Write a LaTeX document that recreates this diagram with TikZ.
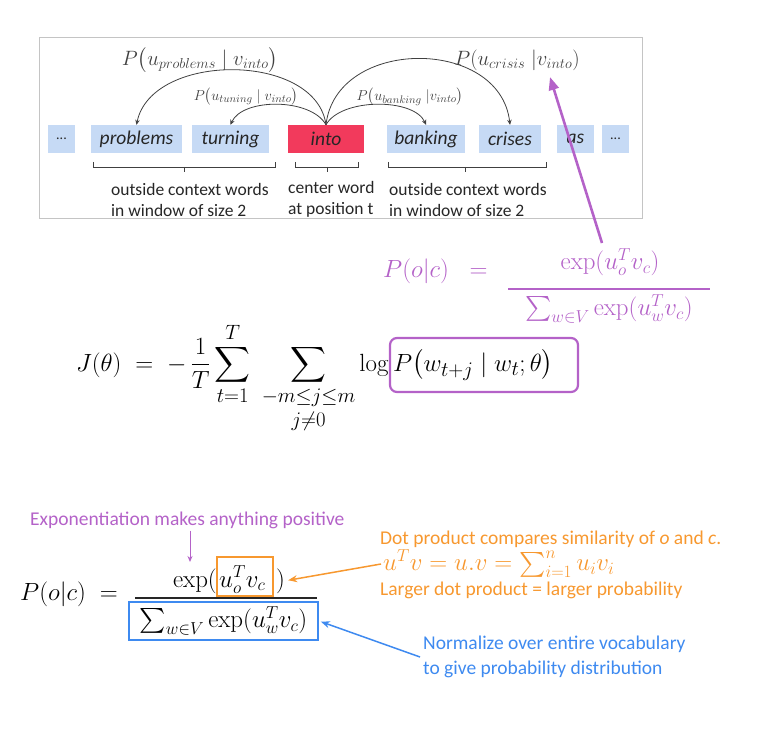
\documentclass[tikz,border=0pt]{standalone}
\usepackage{amsmath}
\usepackage[no-math]{fontspec}
\setmainfont{Carlito}
\usetikzlibrary{arrows.meta,calc}
\definecolor{boxblue}{HTML}{C6DAF5}
\definecolor{intored}{HTML}{F23A5C}
\definecolor{purp}{HTML}{B462C8}
\definecolor{orng}{HTML}{F7982F}
\definecolor{blu}{HTML}{3E8AF0}
\definecolor{framegray}{HTML}{C4C4C4}
\definecolor{arcgray}{HTML}{404040}
\definecolor{ink}{HTML}{262626}
\begin{document}
\begin{tikzpicture}[x=1pt,y=-1pt,
  wbox/.style={fill=boxblue, minimum height=28pt, inner sep=0pt, text=ink,
    font=\fontsize{19.5}{22}\selectfont\itshape},
  arc/.style={draw=arcgray, line width=0.8pt, -{Stealth[length=5pt,width=4.5pt]}},
  labbig/.style={text=arcgray, inner sep=1pt, font=\fontsize{20.5}{22}\selectfont},
  labsmall/.style={text=arcgray, inner sep=1pt, font=\fontsize{15.5}{17}\selectfont},
  brk/.style={draw=arcgray, line width=0.8pt},
  ctx/.style={text=ink, align=left, anchor=west, inner sep=0pt,
    font=\fontsize{17.5}{21}\selectfont},
  pmath/.style={text=purp, inner sep=0pt, font=\fontsize{27}{30}\selectfont},
  bmath/.style={text=black, inner sep=0pt, font=\fontsize{27}{30}\selectfont},
  jmath/.style={text=black, inner sep=0pt, font=\fontsize{30}{34}\selectfont},
  ptext/.style={text=purp, inner sep=2pt, font=\fontsize{19.5}{24}\selectfont},
  otext/.style={text=orng, inner sep=2pt, font=\fontsize{19.5}{24}\selectfont},
  btext/.style={text=blu, inner sep=3pt, align=left, font=\fontsize{19.5}{25}\selectfont},
]
\useasboundingbox (0,0) rectangle (771,735);

% ---------- top panel ----------
\draw[framegray, line width=0.8pt] (39,37) rectangle (642,218);

\node[wbox, minimum width=27pt] (d1) at (61.5,139) {\upshape\fontsize{14}{16}\selectfont ...};
\node[wbox, minimum width=91pt] (w1) at (136.5,139) {problems};
\node[wbox, minimum width=77pt] (w2) at (230.5,139) {turning};
\node[wbox, fill=intored, minimum width=76pt] (wc) at (326,139) {into};
\node[wbox, minimum width=78pt] (w3) at (426,139) {banking};
\node[wbox, minimum width=62pt] (w4) at (510,139) {crises};
\node[wbox, minimum width=37pt] (w5) at (575.5,139) {as};
\node[wbox, minimum width=27pt] (d2) at (615.5,139) {\upshape\fontsize{14}{16}\selectfont ...};

\draw[arc] (wc.north) .. controls +(-10,-73) and +(15,-73) .. (w1.north);
\draw[arc] (wc.north) .. controls +(-15,-27) and +(12,-27) .. (w2.north);
\draw[arc] (wc.north) .. controls +(15,-27) and +(-12,-27) .. (w3.north);
\draw[arc] (wc.north) .. controls +(10,-88) and +(-10,-88) .. (w4.north);

\node[labbig] (lp) at (200,60) {$P\bigl(u_{problems} \mid v_{into}\bigr)$};
\node[labsmall] (lt) at (246,97) {$P\bigl(u_{tuning} \mid v_{into}\bigr)$};
\node[labsmall] (lb) at (410,97) {$P\bigl(u_{banking}\;|v_{into}\bigr)$};
\node[labbig] (lc) at (517,60) {$P(u_{crisis}\;|v_{into})$};

\draw[brk] (93,162) -- (93,167) -- (275,167) -- (275,162) (184,167) -- (184,172);
\draw[brk] (295,162) -- (295,167) -- (358,167) -- (358,162) (327,167) -- (327,172);
\draw[brk] (388,162) -- (388,167) -- (546,167) -- (546,162) (465,167) -- (465,172);

\node[ctx] (t1) at (111,199.5) {outside context words\\in window of size 2};
\node[ctx] (t2) at (288,199.5) {center word\\at position t};
\node[ctx] (t3) at (389,199.5) {outside context words\\in window of size 2};

% ---------- purple softmax ----------
\node[pmath, anchor=west] (plhs) at (383,271) {$P(o|c)\;\;=$};
\node[pmath] (pnum) at (610,262) {$\exp(u_o^T v_c)$};
\draw[purp, line width=1.6pt] (508,289) -- (710,289);
\node[pmath] (pden) at (609,309) {$\sum_{w\in V}\exp(u_w^T v_c)$};

% ---------- objective ----------
\node[jmath, anchor=base east] (jlhs) at (389,371)
  {$\displaystyle J(\theta) \;=\; -\,\frac{1}{T}\sum_{t=1}^{T}\;\sum_{\begin{subarray}{c}-m\le j\le m\\[3pt] j\ne 0\end{subarray}} \log$};
\draw[purp, line width=2.2pt, rounded corners=7pt] (390,338) rectangle (578,392);
\node[jmath, anchor=base west, font=\fontsize{28}{32}\selectfont] (pw) at (393,371) {$P\bigl(w_{t+j}\mid w_t;\theta\bigr)$};

% ---------- bottom softmax ----------
\node[bmath, anchor=west] (blhs) at (20,594) {$P(o|c)\;=$};
\draw[orng, line width=2pt] (217,557) rectangle (273,596);
\node[bmath, anchor=base east] (expl) at (217,587) {$\exp($};
\node[bmath, anchor=base west] (uvtxt) at (219,587) {$u_o^T v_c$};
\node[bmath, anchor=base west] (rpar) at (276,587) {$)$};
\draw[line width=1.8pt, ink] (135,598) -- (317,598);
\node[bmath, draw=blu, line width=2pt, minimum width=189pt, minimum height=38pt, inner sep=2pt] (den) at (223.5,621)
  {$\sum_{w\in V}\exp(u_w^T v_c)$};

\node[ptext, anchor=west] (expo) at (28,520) {Exponentiation makes anything positive};
\coordinate (expotip) at (190,562);
\draw[purp, line width=1pt, -{Stealth[length=6pt,width=5pt]}] (expo.south -| expotip) -- (expotip);

\node[otext, anchor=west] (dot1) at (378,539) {Dot product compares similarity of \textit{o} and \textit{c}.};
\node[otext, anchor=west, font=\fontsize{24}{28}\selectfont] (dot2) at (381,564) {$u^T v = u.v = \sum_{i=1}^{n} u_i v_i$};
\node[otext, anchor=west] (dot3) at (378,590) {Larger dot product = larger probability};
\draw[orng, line width=1.5pt, shorten >=3pt, -{Stealth[length=9pt,width=7pt]}] (dot2.west) -- (rpar.east);

\node[btext, anchor=west] (norm) at (420,657) {Normalize over entire vocabulary\\to give probability distribution};
\draw[blu, line width=1.5pt, shorten >=2pt, -{Stealth[length=9pt,width=7pt]}] (norm.west) -- (den.east);

% ---------- big purple arrow ----------
\coordinate (ptail) at (602,243);
\coordinate (ptip) at (550,77);
\draw[purp, line width=2.6pt, -{Triangle[length=13pt,width=10pt]}] (ptail) -- (ptip);
\end{tikzpicture}
\end{document}
